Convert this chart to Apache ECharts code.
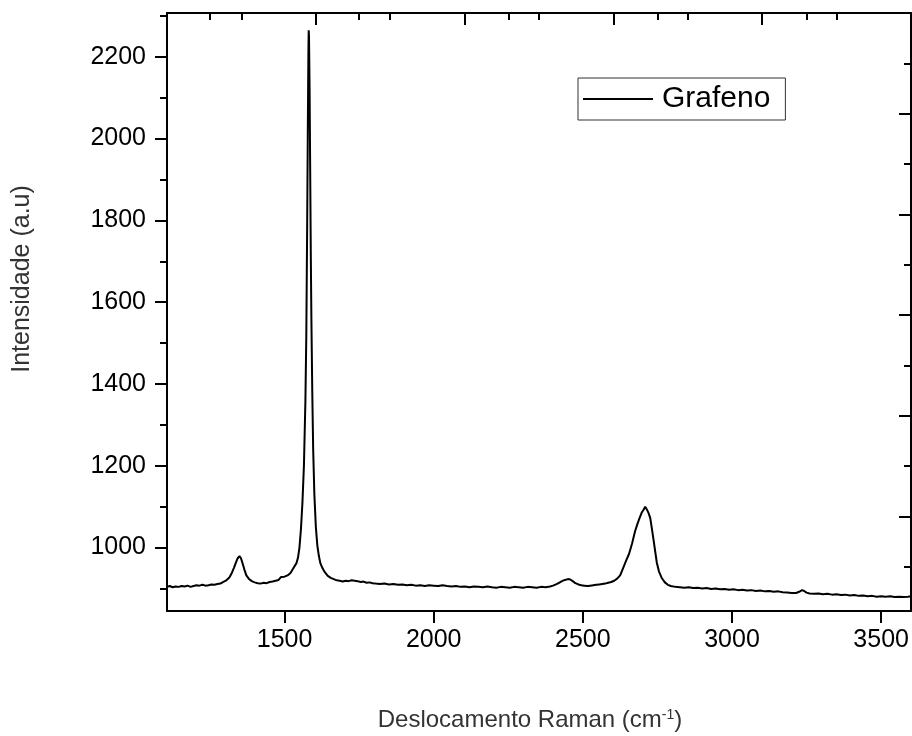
<!DOCTYPE html>
<html>
<head>
<meta charset="utf-8">
<script src="https://cdn.jsdelivr.net/npm/echarts@6/dist/echarts.min.js"></script>
<style>
html,body{margin:0;padding:0;background:#fff;}
#chart{width:912px;height:736px;}
</style>
</head>
<body>
<div id="chart"></div>
<script>
// Raman spectrum of graphene: [Raman shift (cm^-1), intensity (a.u.)]
const spectrum = [
  [1106,904],[1115,906],[1125,903],[1135,905],[1145,904],[1155,906],[1165,905],[1175,907],
  [1185,904],[1195,906],[1205,908],[1215,907],[1225,909],[1235,907],[1245,908],[1255,910],
  [1265,909],[1275,911],[1285,912],[1295,916],[1305,920],[1315,927],[1322,936],[1330,950],
  [1337,963],[1343,974],[1349,979],[1354,974],[1360,960],[1366,945],[1372,932],[1380,924],
  [1390,918],[1400,915],[1410,913],[1420,912],[1430,914],[1440,913],[1450,916],[1460,917],
  [1470,919],[1480,921],[1488,928],[1494,926],[1500,929],[1510,932],[1520,938],[1530,950],
  [1540,962],[1545,975],[1550,1000],[1555,1045],[1560,1110],[1565,1200],[1570,1360],[1573,1520],
  [1576,1800],[1578,2020],[1580,2210],[1581,2265],[1582,2250],[1584,2120],[1586,1920],[1588,1720],
  [1590,1560],[1593,1380],[1596,1240],[1600,1130],[1605,1050],[1610,1005],[1615,980],[1620,962],
  [1627,950],[1635,940],[1645,931],[1655,926],[1665,923],[1675,920],[1685,919],[1695,917],
  [1705,919],[1715,918],[1725,920],[1735,919],[1745,918],[1755,916],[1765,917],[1775,914],
  [1785,915],[1795,913],[1805,912],[1820,911],[1835,912],[1850,910],[1865,911],[1880,909],
  [1895,910],[1910,908],[1925,909],[1940,907],[1955,908],[1970,906],[1985,908],[2000,907],
  [2015,906],[2030,908],[2045,906],[2060,905],[2075,906],[2090,904],[2105,905],[2120,903],
  [2135,905],[2150,904],[2165,903],[2180,905],[2195,903],[2210,902],[2225,904],[2240,903],
  [2255,902],[2270,904],[2285,903],[2300,902],[2315,904],[2330,903],[2345,902],[2360,904],
  [2375,903],[2390,905],[2400,907],[2410,910],[2420,914],[2430,918],[2440,921],[2450,923],
  [2458,922],[2466,918],[2475,913],[2485,910],[2495,908],[2505,907],[2515,906],[2525,907],
  [2535,908],[2545,909],[2555,910],[2565,911],[2575,912],[2585,914],[2595,916],[2605,919],
  [2615,924],[2625,932],[2635,950],[2645,968],[2655,985],[2665,1010],[2675,1040],[2683,1058],
  [2690,1072],[2697,1085],[2703,1092],[2709,1100],[2714,1094],[2720,1085],[2726,1072],[2731,1048],
  [2737,1019],[2743,988],[2748,963],[2755,942],[2765,925],[2775,915],[2785,909],[2795,906],
  [2810,904],[2825,903],[2840,902],[2855,903],[2870,901],[2885,902],[2900,900],[2915,901],
  [2930,899],[2945,900],[2960,898],[2975,899],[2990,897],[3005,898],[3020,896],[3035,897],
  [3050,895],[3065,896],[3080,894],[3095,895],[3110,893],[3125,894],[3140,892],[3155,893],
  [3170,891],[3185,890],[3200,889],[3215,889],[3225,892],[3235,896],[3242,894],[3250,890],
  [3260,888],[3275,887],[3290,888],[3305,886],[3320,887],[3335,885],[3350,886],[3365,884],
  [3380,885],[3395,883],[3410,884],[3425,882],[3440,883],[3455,881],[3470,882],[3485,880],
  [3500,881],[3515,880],[3530,881],[3545,879],[3560,880],[3575,879],[3590,880],[3600,881]
];
const seriesName = 'Grafeno';
const xMajorTicks = [1500, 2000, 2500, 3000, 3500];
const xMinorTicks = [1250, 1750, 2250, 2750, 3250];
const yMajorTicks = [1000, 1200, 1400, 1600, 1800, 2000, 2200];
const yMinorTicks = [900, 1100, 1300, 1500, 1700, 1900, 2100, 2300];
const xRange = [1106, 3600];
const yRange = [845, 2307];
const xTitle = 'Deslocamento Raman (cm{sup|-1})';
const yTitle = 'Intensidade (a.u)';

const FONT = "'Liberation Sans', Arial, sans-serif";
const chart = echarts.init(document.getElementById('chart'), null, {renderer: 'canvas'});
const axisLine = {show: true, onZero: false, lineStyle: {color: '#000', width: 2}};
const noSplit = {show: false};
const plain = v => String(v);

chart.setOption({
  animation: false,
  backgroundColor: '#fff',
  grid: {left: 167, right: 1, top: 13, bottom: 125, containLabel: false},
  legend: {
    show: true,
    data: [seriesName],
    left: 578, top: 78,
    orient: 'horizontal',
    padding: [6, 15, 6, 5],
    icon: 'rect',
    itemWidth: 70, itemHeight: 2,
    itemStyle: {color: '#000', borderWidth: 0},
    borderColor: '#333', borderWidth: 1,
    backgroundColor: '#fff',
    textStyle: {fontFamily: FONT, fontSize: 30, color: '#000', padding: [0, 0, 0, 4]}
  },
  xAxis: [
    {
      type: 'value', position: 'bottom', min: xRange[0], max: xRange[1],
      axisLine: axisLine,
      axisTick: {show: true, inside: false, length: 12, lineStyle: {color: '#000', width: 2}, customValues: xMajorTicks},
      axisLabel: {show: true, margin: 17, fontFamily: FONT, fontSize: 25, color: '#000', customValues: xMajorTicks, formatter: plain},
      splitLine: noSplit
    },
    {
      type: 'value', position: 'bottom', min: xRange[0], max: xRange[1],
      axisLine: {show: false},
      axisTick: {show: true, inside: false, length: 7, lineStyle: {color: '#000', width: 2}, customValues: xMinorTicks},
      axisLabel: {show: false},
      splitLine: noSplit
    },
    {
      type: 'value', position: 'top', min: 0, max: 5, interval: 1,
      axisLine: axisLine,
      axisTick: {show: true, inside: true, length: 12, lineStyle: {color: '#000', width: 2}},
      minorTick: {show: true, splitNumber: 2, length: 7, lineStyle: {color: '#000', width: 2}},
      axisLabel: {show: false},
      splitLine: noSplit
    }
  ],
  yAxis: [
    {
      type: 'value', position: 'left', min: yRange[0], max: yRange[1],
      axisLine: axisLine,
      axisTick: {show: true, inside: false, length: 12, lineStyle: {color: '#000', width: 2}, customValues: yMajorTicks},
      axisLabel: {show: true, margin: 21, fontFamily: FONT, fontSize: 25, color: '#000', customValues: yMajorTicks, formatter: plain},
      splitLine: noSplit
    },
    {
      type: 'value', position: 'left', min: yRange[0], max: yRange[1],
      axisLine: {show: false},
      axisTick: {show: true, inside: false, length: 7, lineStyle: {color: '#000', width: 2}, customValues: yMinorTicks},
      axisLabel: {show: false},
      splitLine: noSplit
    },
    {
      type: 'value', position: 'right', inverse: true, min: 0, max: 5.94, interval: 1,
      axisLine: axisLine,
      axisTick: {show: true, inside: true, length: 12, lineStyle: {color: '#000', width: 2}},
      minorTick: {show: true, splitNumber: 2, length: 7, lineStyle: {color: '#000', width: 2}},
      axisLabel: {show: false},
      splitLine: noSplit
    }
  ],
  series: [{
    name: seriesName,
    type: 'line',
    xAxisIndex: 0, yAxisIndex: 0,
    data: spectrum,
    symbol: 'none',
    showSymbol: false,
    lineStyle: {color: '#000', width: 2},
    itemStyle: {color: '#000'},
    z: 3
  }],
  graphic: [
    {
      type: 'text', x: 530, y: 720,
      style: {
        text: xTitle,
        fontFamily: FONT, fontSize: 24, fill: '#333',
        align: 'center', verticalAlign: 'middle',
        rich: {sup: {fontFamily: FONT, fontSize: 14, fill: '#333', verticalAlign: 'top', padding: [0, 0, 8, 0]}}
      }
    },
    {
      type: 'text', x: 22, y: 279, rotation: Math.PI / 2,
      style: {
        text: yTitle,
        fontFamily: FONT, fontSize: 25, fill: '#333',
        align: 'center', verticalAlign: 'middle'
      }
    }
  ]
});
</script>
</body>
</html>
